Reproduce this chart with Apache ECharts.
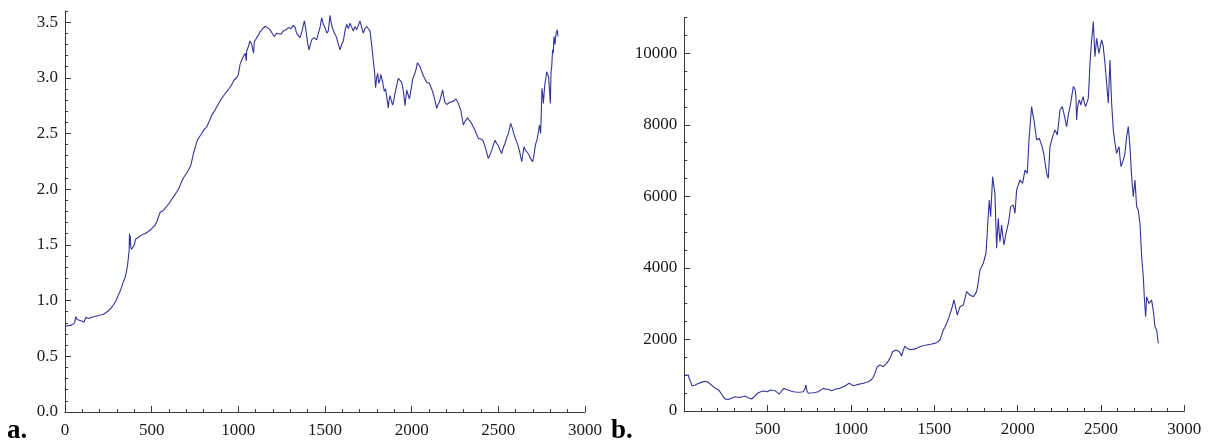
<!DOCTYPE html>
<html>
<head>
<meta charset="utf-8">
<script src="https://cdn.jsdelivr.net/npm/echarts@6/dist/echarts.min.js"></script>
<style>
html,body{margin:0;padding:0;background:#fff;}
#c{width:1209px;height:447px;}
</style>
</head>
<body>
<div id="c"></div>
<script>
// Panel a: positions and values
const xA = [0,20,38,55,63,70,77,96,109,121,135,144,165,183,205,221,235,250,265,279,295,308,322,337,347,356,362,366,370,372,375,377,379,384,391,400,407,414,430,443,460,481,500,520,530,539,548,555,568,583,600,616,630,645,658,668,676,683,700,712,725,741,752,764,776,789,800,818,832,847,862,876,890,904,918,933,950,962,976,990,1000,1010,1020,1029,1040,1046,1048,1058,1067,1077,1086,1088,1092,1106,1115,1125,1140,1154,1168,1183,1195,1208,1220,1231,1245,1260,1275,1289,1303,1317,1328,1336,1346,1356,1368,1381,1388,1394,1401,1408,1416,1423,1437,1452,1462,1471,1481,1490,1500,1510,1519,1529,1535,1542,1555,1567,1577,1587,1596,1606,1615,1625,1635,1644,1655,1663,1673,1683,1692,1702,1712,1721,1730,1740,1750,1760,1769,1779,1786,1792,1798,1804,1810,1817,1822,1827,1834,1842,1849,1856,1865,1870,1875,1882,1890,1897,1904,1912,1923,1930,1942,1950,1956,1962,1971,1979,1987,1997,2006,2019,2026,2033,2040,2048,2057,2067,2076,2086,2102,2115,2122,2129,2137,2144,2152,2160,2170,2179,2185,2192,2202,2211,2221,2231,2243,2256,2269,2283,2290,2298,2305,2313,2322,2332,2346,2355,2365,2375,2385,2398,2410,2420,2429,2436,2442,2452,2462,2472,2481,2490,2500,2510,2519,2528,2538,2548,2558,2565,2571,2580,2587,2595,2602,2612,2621,2628,2635,2642,2648,2656,2664,2672,2679,2688,2698,2705,2712,2718,2725,2732,2737,2744,2748,2752,2756,2760,2765,2769,2775,2779,2785,2790,2795,2800,2804,2808,2813,2817,2821,2827,2833,2840,2844];
const yA = [0.77,0.775,0.78,0.80,0.855,0.83,0.835,0.817,0.805,0.85,0.84,0.848,0.855,0.862,0.87,0.877,0.89,0.909,0.93,0.96,1.00,1.05,1.10,1.17,1.21,1.27,1.33,1.394,1.45,1.60,1.50,1.58,1.48,1.46,1.47,1.50,1.55,1.56,1.575,1.59,1.60,1.62,1.645,1.678,1.71,1.75,1.79,1.78,1.81,1.84,1.87,1.91,1.94,1.977,2.01,2.05,2.06,2.10,2.14,2.17,2.21,2.32,2.38,2.44,2.47,2.50,2.53,2.56,2.61,2.665,2.70,2.74,2.78,2.815,2.845,2.875,2.91,2.94,2.98,3.0,3.03,3.12,3.16,3.19,3.22,3.15,3.24,3.28,3.33,3.30,3.30,3.22,3.32,3.36,3.38,3.41,3.44,3.46,3.45,3.43,3.40,3.37,3.40,3.41,3.39,3.42,3.43,3.45,3.44,3.47,3.45,3.40,3.38,3.36,3.42,3.51,3.45,3.38,3.30,3.25,3.30,3.34,3.36,3.34,3.40,3.45,3.54,3.48,3.45,3.40,3.42,3.56,3.50,3.45,3.40,3.36,3.30,3.25,3.30,3.33,3.42,3.48,3.44,3.49,3.45,3.42,3.46,3.43,3.47,3.51,3.45,3.40,3.44,3.46,3.44,3.42,3.30,3.15,3.05,2.91,3.00,3.04,2.95,2.98,3.03,3.03,2.95,2.88,2.90,2.83,2.73,2.80,2.84,2.80,2.755,2.80,2.86,2.92,2.995,3.01,2.96,2.90,2.83,2.75,2.89,2.85,2.81,2.90,2.99,3.04,3.08,3.135,3.12,3.10,3.06,3.02,2.99,2.96,2.95,2.90,2.87,2.83,2.78,2.725,2.76,2.78,2.84,2.89,2.83,2.78,2.76,2.75,2.78,2.77,2.79,2.81,2.77,2.71,2.65,2.576,2.60,2.62,2.64,2.635,2.59,2.56,2.53,2.49,2.456,2.45,2.44,2.40,2.35,2.31,2.276,2.31,2.35,2.40,2.44,2.41,2.39,2.35,2.32,2.37,2.41,2.46,2.50,2.55,2.59,2.55,2.51,2.47,2.44,2.40,2.35,2.30,2.246,2.32,2.38,2.35,2.34,2.32,2.30,2.27,2.246,2.30,2.38,2.42,2.456,2.52,2.576,2.50,2.70,2.905,2.85,2.77,2.88,2.95,3.00,3.054,3.03,3.01,3.02,2.77,3.05,3.10,3.25,3.22,3.37,3.30,3.40,3.43,3.37];

// Panel b: positions and values
const xB = [0,4,12,24,30,38,46,54,62,70,80,90,102,114,124,134,144,154,164,174,186,198,206,214,224,234,244,254,264,274,289,304,319,334,349,364,374,384,394,404,414,424,434,444,459,474,486,498,508,518,531,544,557,570,584,598,611,624,639,654,669,684,699,714,722,730,736,744,759,774,789,804,819,834,849,864,874,884,894,904,919,934,949,964,977,990,1002,1014,1029,1044,1059,1074,1089,1104,1117,1130,1137,1144,1151,1158,1166,1174,1184,1194,1204,1214,1224,1234,1242,1250,1260,1270,1280,1290,1297,1304,1314,1324,1334,1344,1354,1364,1379,1394,1409,1424,1439,1454,1469,1484,1499,1514,1524,1534,1544,1554,1564,1574,1584,1594,1604,1618,1628,1638,1646,1654,1664,1674,1684,1694,1704,1714,1724,1734,1744,1754,1764,1774,1784,1794,1802,1810,1814,1818,1824,1830,1834,1838,1844,1850,1857,1864,1869,1874,1879,1884,1889,1894,1899,1904,1911,1918,1924,1930,1937,1944,1951,1958,1966,1974,1979,1984,1989,1994,2004,2014,2022,2030,2037,2044,2051,2058,2063,2068,2076,2084,2091,2098,2106,2114,2122,2130,2137,2144,2151,2158,2166,2174,2179,2184,2189,2194,2202,2210,2217,2224,2231,2238,2246,2254,2261,2268,2276,2284,2289,2294,2299,2304,2311,2318,2326,2334,2344,2350,2354,2358,2364,2370,2380,2387,2394,2401,2408,2416,2424,2429,2434,2439,2444,2449,2454,2459,2464,2469,2474,2481,2488,2496,2504,2509,2514,2519,2524,2529,2534,2539,2544,2549,2554,2559,2564,2569,2574,2579,2584,2589,2594,2601,2608,2614,2620,2627,2634,2639,2644,2649,2654,2659,2664,2669,2674,2679,2684,2689,2694,2699,2704,2709,2714,2719,2724,2729,2734,2739,2744,2749,2754,2757,2760,2764,2768,2771,2774,2781,2788,2796,2804,2810,2816,2820,2824,2829,2834,2839,2844];
const yB = [1000,978,1050,1006,900,820,700,662,720,773,760,727,800,848,830,820,800,773,720,680,640,606,590,568,470,400,340,307,320,354,370,400,385,382,400,419,395,372,350,335,370,419,460,512,540,559,545,540,570,587,575,568,520,475,560,633,600,587,560,540,530,522,530,540,600,727,560,494,505,512,525,540,590,633,610,606,590,568,590,606,620,633,670,699,740,773,735,708,725,745,760,773,795,820,860,913,980,1053,1150,1239,1270,1286,1250,1239,1290,1332,1400,1472,1560,1658,1690,1704,1680,1658,1600,1537,1700,1817,1760,1724,1715,1704,1730,1751,1790,1817,1830,1845,1860,1873,1890,1910,1940,1985,2120,2264,2350,2450,2570,2620,2850,3103,2900,2684,2800,2917,2940,2964,3150,3336,3290,3243,3220,3196,3260,3336,3600,3942,4030,4128,4270,4408,4700,5013,5500,5899,5650,5433,6000,6550,6300,6084,5300,4548,5000,5387,5000,4734,4950,5200,4900,4641,4800,4967,5100,5247,5450,5713,5740,5760,5640,5526,5850,6178,6320,6457,6410,6364,6550,6737,6690,6644,7100,7576,8050,8508,8300,8135,7850,7576,7600,7623,7530,7437,7300,7157,6900,6644,6570,6504,6950,7390,7530,7670,7760,7856,7790,7716,8050,8415,8460,8508,8350,8181,8060,7949,8110,8275,8440,8601,8830,9067,9000,8787,8133,8415,8601,8694,8554,8700,8787,8600,8508,8620,8741,9200,9720,10050,10372,10600,10884,10400,9905,10150,10419,10200,9999,10200,10372,10280,10186,9950,9720,9440,9160,8880,8601,9200,9813,9200,8601,8230,7856,7670,7484,7340,7204,7300,7391,7100,6832,6920,7018,7110,7204,7440,7670,7810,7950,7670,7391,6970,6551,6270,5992,6225,6458,6085,5712,5665,5619,5430,5246,4780,4314,4034,3754,3475,3195,2900,2637,2900,3195,3100,3008,3055,3102,2915,2729,2543,2357,2310,2264,2077,1891];

// Tick labels
const xTicksA = [0,500,1000,1500,2000,2500,3000];
const xTicksB = [500,1000,1500,2000,2500,3000];
const yTicksA = [0.0,0.5,1.0,1.5,2.0,2.5,3.0,3.5];
const yTicksB = [0,2000,4000,6000,8000,10000];

const LINE = '#34349a';
const AX = '#3a3a3a';
const FONT = 'Liberation Serif';

const chart = echarts.init(document.getElementById('c'), null, {renderer: 'canvas'});

function xAxisDef(gi, ticks) {
  return {
    type: 'value', gridIndex: gi, min: 0, max: 3000, interval: 500,
    axisLine: {show: true, onZero: false, lineStyle: {color: AX, width: 1}},
    axisTick: {show: true, inside: true, length: 6, lineStyle: {color: AX}},
    minorTick: {show: true, splitNumber: 5, length: 3, lineStyle: {color: AX}},
    splitLine: {show: false}, minorSplitLine: {show: false},
    axisLabel: {show: true, margin: 10, color: '#1a1a1a', fontFamily: FONT, fontSize: 17,
      showMinLabel: true, showMaxLabel: true,
      customValues: ticks, formatter: v => String(v)}
  };
}

function yMain(gi, max, ticks, fmt) {
  return {
    type: 'value', gridIndex: gi, min: 0, max: max, position: 'left',
    axisLine: {show: true, onZero: false, lineStyle: {color: AX, width: 1}},
    axisTick: {show: true, inside: true, length: 6, lineStyle: {color: AX}, customValues: ticks},
    splitLine: {show: false},
    axisLabel: {show: true, margin: 7, color: '#1a1a1a', fontFamily: FONT, fontSize: 17,
      customValues: ticks, formatter: fmt}
  };
}

function yMinor(gi, max, step) {
  return {
    type: 'value', gridIndex: gi, min: 0, max: max, interval: step, position: 'left',
    axisLine: {show: false},
    axisTick: {show: true, inside: true, length: 3, lineStyle: {color: AX}},
    axisLabel: {show: false},
    splitLine: {show: false}
  };
}

const option = {
  animation: false,
  backgroundColor: '#fff',
  grid: [
    {left: 65, top: 10.9, width: 520, height: 401.1, containLabel: false},
    {left: 684.3, top: 17.5, width: 500, height: 393.5, containLabel: false}
  ],
  xAxis: [xAxisDef(0, xTicksA), xAxisDef(1, xTicksB)],
  yAxis: [
    yMain(0, 3.6, yTicksA, v => Number(v).toFixed(1)),
    yMinor(0, 3.6, 0.1),
    yMain(1, 11000, yTicksB, v => String(v)),
    yMinor(1, 11000, 500)
  ],
  series: [
    {type: 'line', xAxisIndex: 0, yAxisIndex: 0, showSymbol: false, symbol: 'none',
      lineStyle: {color: LINE, width: 1.1}, data: xA.map((x, i) => [x, yA[i]])},
    {type: 'line', xAxisIndex: 1, yAxisIndex: 2, showSymbol: false, symbol: 'none',
      lineStyle: {color: LINE, width: 1.1}, data: xB.map((x, i) => [x, yB[i]])}
  ],
  graphic: [
    {type: 'text', left: 7, top: 418, style: {text: 'a.', font: 'bold 27px "Liberation Serif"', fill: '#000'}},
    {type: 'text', left: 611, top: 418, style: {text: 'b.', font: 'bold 27px "Liberation Serif"', fill: '#000'}}
  ]
};
chart.setOption(option);
</script>
</body>
</html>
